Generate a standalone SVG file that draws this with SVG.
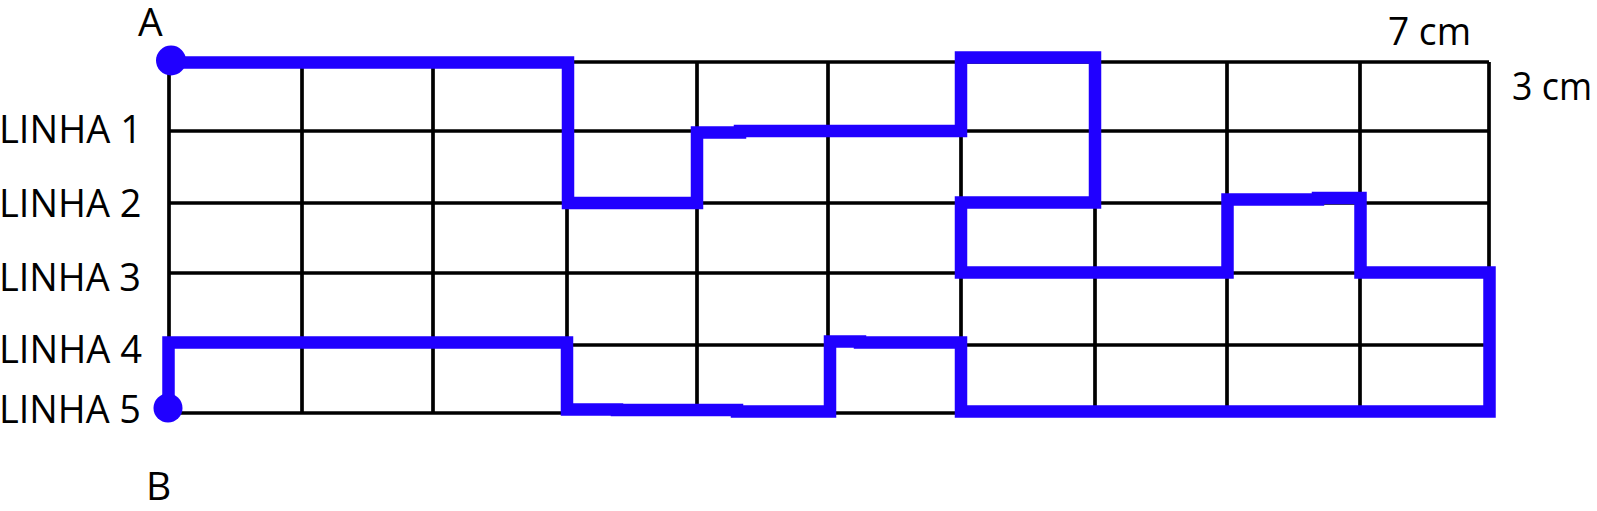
<svg xmlns="http://www.w3.org/2000/svg" width="1597" height="511" viewBox="0 0 1597 511">
<style>
  .grid line { stroke: #000; stroke-width: 3.7; }
  .route { fill: none; stroke: #2000ff; stroke-width: 12.5; stroke-linejoin: miter; stroke-linecap: butt; }
  .dot { fill: #2000ff; }
  text { font-family: "Open Sans", "Liberation Sans", Arial, sans-serif; font-size: 39px; fill: #000; }
</style>
<rect width="1597" height="511" fill="#fff"/>
<g id="grid" class="grid">
  <line x1="169" y1="62" x2="1489" y2="62"/>
  <line x1="169" y1="131" x2="1489" y2="131"/>
  <line x1="169" y1="203" x2="1489" y2="203"/>
  <line x1="169" y1="273" x2="1489" y2="273"/>
  <line x1="169" y1="345" x2="1489" y2="345"/>
  <line x1="169" y1="413" x2="1489" y2="413"/>
  <line x1="169" y1="62" x2="169" y2="413"/>
  <line x1="302" y1="62" x2="302" y2="413"/>
  <line x1="433" y1="62" x2="433" y2="413"/>
  <line x1="567" y1="62" x2="567" y2="413"/>
  <line x1="697" y1="62" x2="697" y2="413"/>
  <line x1="828" y1="62" x2="828" y2="413"/>
  <line x1="961" y1="62" x2="961" y2="413"/>
  <line x1="1095" y1="62" x2="1095" y2="413"/>
  <line x1="1227" y1="62" x2="1227" y2="413"/>
  <line x1="1360" y1="62" x2="1360" y2="413"/>
  <line x1="1489" y1="62" x2="1489" y2="413"/>
</g>
<g id="connectors">
  <path class="route" d="M171 62.5 H568 V203 H697 V132.5 H740 V131 H961 V57.5 H1095 V202.5 H961 V272.5 H1227.5 V199.5 H1318 V198 H1360.5 V272.5 H1489.5 V411.5 H961 V342.5 H860 V341.5 H830 V411.5 H737 V410 H617 V409.5 H567 V342.5 H168.5 V408"/>
</g>
<g id="node-A">
  <circle class="dot" cx="171" cy="60.5" r="15"/>
  <text x="138" y="36">A</text>
</g>
<g id="node-B">
  <circle class="dot" cx="168" cy="408" r="14.5"/>
  <text x="146" y="500">B</text>
</g>
<g id="labels">
  <text x="-1" y="143" textLength="143" lengthAdjust="spacingAndGlyphs">LINHA 1</text>
  <text x="-1" y="217" textLength="142.5" lengthAdjust="spacingAndGlyphs">LINHA 2</text>
  <text x="-1" y="291" textLength="142" lengthAdjust="spacingAndGlyphs">LINHA 3</text>
  <text x="-1" y="363" textLength="143" lengthAdjust="spacingAndGlyphs">LINHA 4</text>
  <text x="-1" y="423" textLength="142" lengthAdjust="spacingAndGlyphs">LINHA 5</text>
  <text x="1388" y="45" textLength="83" lengthAdjust="spacingAndGlyphs">7 cm</text>
  <text x="1512" y="100" textLength="80" lengthAdjust="spacingAndGlyphs">3 cm</text>
</g>
</svg>
